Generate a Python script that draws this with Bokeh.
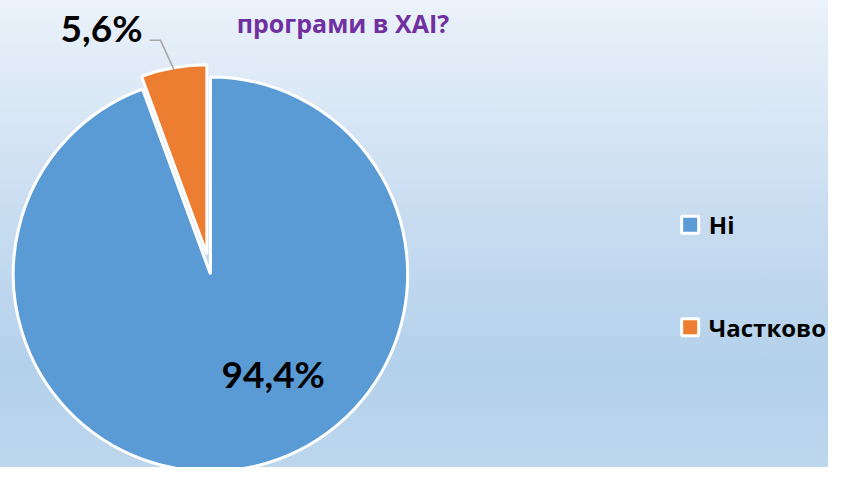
import math
from bokeh.plotting import figure
from bokeh.models import Range1d, ColumnDataSource
from bokeh.core.properties import value
from bokeh.embed import file_html
from bokeh.resources import INLINE

# ---- data ----
categories = ["Ні", "Частково"]
percents = [94.4, 5.6]
colors = ["#5B9BD5", "#ED7D31"]
title_tail = "програми в ХАІ?"

# ---- layout (reference pixel space 844x483, y flipped to data) ----
W, H = 844, 483
p = figure(width=828, height=467, output_backend="svg", toolbar_location=None,
           x_range=Range1d(0, W), y_range=Range1d(0, H), min_border=0)
p.axis.visible = False
p.grid.visible = False
p.outline_line_color = None
p.background_fill_color = None
p.border_fill_color = None
p.styles = {"background": "linear-gradient(180deg, #EBF2FA 0%, #C9DDF1 45%, #B4D1EB 78%, #BCD6ED 100%)"}

def Y(y_ref):
    return H - y_ref

cx, cy = 214, Y(283)
r_main = 201
r_expl = 193
explode = 21

total = sum(percents)
start = 90.0
wedges = []
for cat, pct, col in zip(categories, percents, colors):
    span = 360.0 * pct / total
    wedges.append((cat, pct, col, start - span, start))
    start -= span

for i, (cat, pct, col, a0, a1) in enumerate(wedges):
    if i == 0:
        x, y, r = cx, cy, r_main
    else:
        mid = math.radians((a0 + a1) / 2)
        x = cx + explode * math.cos(mid)
        y = cy + explode * math.sin(mid)
        r = r_expl
    src = ColumnDataSource(dict(x=[x], y=[y], r=[r], s=[math.radians(a0)], e=[math.radians(a1)]))
    p.wedge(x="x", y="y", radius="r", start_angle="s", end_angle="e", source=src,
            fill_color=col, line_color="white", line_width=3)

def fmt(v):
    return f"{v:.1f}".replace(".", ",") + "%"

# data labels
p.text(x=[278], y=[Y(386)], text=[fmt(percents[0])], text_font=value("Lato"),
       text_font_style="bold", text_font_size="37px", text_color="black",
       text_align="center", text_baseline="middle")
p.text(x=[103], y=[Y(28)], text=[fmt(percents[1])], text_font=value("Lato"),
       text_font_style="bold", text_font_size="37px", text_color="black",
       text_align="center", text_baseline="middle")
# leader line
p.line(x=[177, 163, 152], y=[Y(72), Y(41), Y(41)], line_color="#A6A6A6", line_width=1.5)

# title (last visible line)
p.text(x=[349], y=[Y(23)], text=[title_tail], text_font=value("Open Sans"),
       text_font_style="bold", text_font_size="25px", text_color="#7030A0",
       text_align="center", text_baseline="alphabetic")

# legend
leg_y = [Y(232), Y(338)]
p.scatter(x=[703, 703], y=leg_y, marker="square", size=17, fill_color=colors,
          line_color="white", line_width=3)
p.text(x=[722, 722], y=leg_y, text=categories, text_font=value("Open Sans"),
       text_font_style="bold", text_font_size="24px", text_color="black",
       text_align="left", text_baseline="middle")

open("out.html", "w").write(file_html(p, INLINE))
